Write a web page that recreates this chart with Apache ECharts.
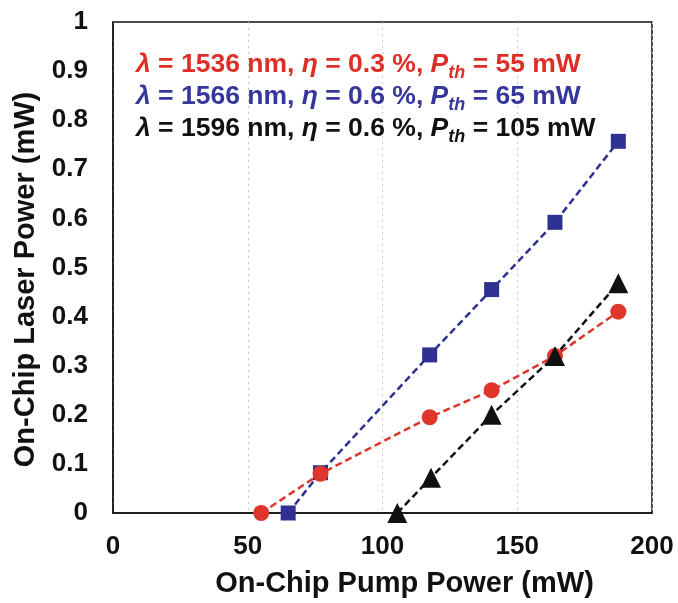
<!DOCTYPE html>
<html><head><meta charset="utf-8">
<script src="https://cdn.jsdelivr.net/npm/echarts@6/dist/echarts.min.js"></script>
<style>html,body{margin:0;padding:0;background:#fff}#c{width:678px;height:603px}</style>
</head><body><div id="c"></div>
<script>
const xTicks = [0, 50, 100, 150, 200];
const redData = [[55,0],[77,0.08],[117.5,0.195],[140.5,0.25],[164,0.32],[187.5,0.41]];
const blueData = [[65,0],[77,0.082],[117.5,0.322],[140.5,0.455],[164,0.592],[187.5,0.757]];
const blackData = [[105.5,0],[118,0.072],[140.5,0.2],[164,0.32],[187.5,0.468]];
const legendLines = [
  {lam:'1536', eta:'0.3', pth:'55', color:'#de2f26'},
  {lam:'1566', eta:'0.6', pth:'65', color:'#35379a'},
  {lam:'1596', eta:'0.6', pth:'105', color:'#111111'}
];
const FONT = 'Liberation Sans, Arial, sans-serif';
const chart = echarts.init(document.getElementById('c'), null, {renderer:'canvas'});
function mkText(l, i) {
  const fs = 26.5;
  return {
    type:'text', left: 136, top: 51 + i*32, z: 10,
    style: {
      text: '{it|λ}{n| = ' + l.lam + ' nm, }{it|η}{n| = ' + l.eta + ' %, }{it|P}{sub|th}{n| = ' + l.pth + ' mW}',
      fill: l.color, font: 'bold ' + fs + 'px ' + FONT,
      rich: {
        n: {fontFamily: FONT, fontWeight:'bold', fontSize:fs, fill:l.color, lineHeight:28, verticalAlign:'top'},
        it: {fontFamily: FONT, fontWeight:'bold', fontStyle:'italic', fontSize:fs, fill:l.color, lineHeight:28, verticalAlign:'top'},
        sub: {fontFamily: FONT, fontWeight:'bold', fontStyle:'italic', fontSize:18, fill:l.color, lineHeight:28, padding:[13,0,0,0], verticalAlign:'top'}
      }
    }
  };
}
const option = {
  backgroundColor:'#fff',
  animation:false,
  grid:{left:113, right:26, top:22, bottom:89, show:true, borderColor:'#111', borderWidth:1.5, backgroundColor:'transparent'},
  xAxis:{type:'value', min:xTicks[0], max:xTicks[xTicks.length-1], interval:50,
    name:'On-Chip Pump Power (mW)', nameLocation:'middle', nameGap:56,
    nameTextStyle:{fontFamily:FONT, fontWeight:'bold', fontSize:29, color:'#111', padding:[0,0,0,44]},
    axisLine:{show:true, onZero:false, lineStyle:{color:'#111', width:1.5}},
    axisTick:{show:false},
    axisLabel:{fontFamily:FONT, fontWeight:'bold', fontSize:26, color:'#111', margin:21},
    splitLine:{show:true, lineStyle:{color:'#c8c8c8', type:[2,4], width:1}}
  },
  yAxis:{type:'value', min:0, max:1, interval:0.1,
    name:'On-Chip Laser Power (mW)', nameLocation:'middle', nameGap:72,
    nameTextStyle:{fontFamily:FONT, fontWeight:'bold', fontSize:29, color:'#111', padding:[0,24,0,0]},
    axisLine:{show:true, lineStyle:{color:'#111', width:1.5}},
    axisTick:{show:false},
    axisLabel:{fontFamily:FONT, fontWeight:'bold', fontSize:26, color:'#111', margin:25},
    splitLine:{show:false}
  },
  series:[
    {type:'line', data:redData, symbol:'circle', symbolSize:16, z:3,
      lineStyle:{color:'#e0352b', width:2.5, type:[7,4]}, itemStyle:{color:'#e0352b'}},
    {type:'line', data:blueData, symbol:'rect', symbolSize:15, z:2,
      lineStyle:{color:'#2e3192', width:2.5, type:[7,4]}, itemStyle:{color:'#2e3192'}},
    {type:'line', data:blackData, symbol:'triangle', symbolSize:20, z:4,
      lineStyle:{color:'#111', width:2.5, type:[7,4]}, itemStyle:{color:'#111'}}
  ],
  graphic: legendLines.map(mkText)
};
chart.setOption(option);
</script></body></html>
